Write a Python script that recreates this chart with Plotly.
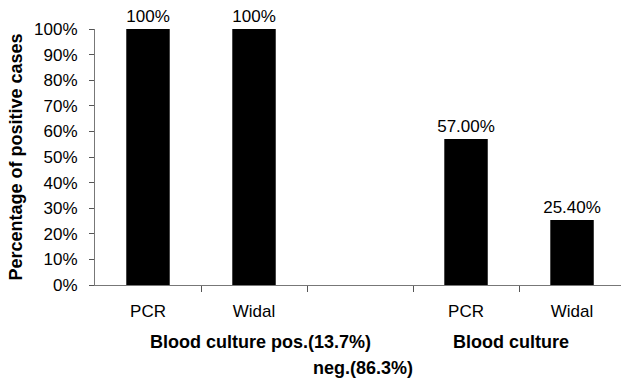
import plotly.graph_objects as go

categories = ["PCR", "Widal", "", "PCR", "Widal"]
positions = [0, 1, 2, 3, 4]
values = [100, 100, None, 57.0, 25.4]
value_labels = ["100%", "100%", "", "57.00%", "25.40%"]
y_ticks = [0, 10, 20, 30, 40, 50, 60, 70, 80, 90, 100]
y_tick_labels = [f"{v}%" for v in y_ticks]
group_labels = ["Blood culture pos.(13.7%)", "Blood culture", "neg.(86.3%)"]

FONT = "Liberation Sans, Arial, sans-serif"

fig = go.Figure()
fig.add_trace(go.Bar(
    x=positions, y=values,
    width=0.41,
    marker=dict(color="black", line=dict(width=0)),
    text=value_labels, textposition="outside",
    textfont=dict(size=17, color="black", family=FONT),
    constraintext="none",
    cliponaxis=False,
))

fig.update_layout(
    width=621, height=378,
    margin=dict(l=95, r=0, t=29, b=93, autoexpand=False),
    plot_bgcolor="white", paper_bgcolor="white",
    showlegend=False,
    font=dict(family=FONT, size=17, color="black"),
    xaxis=dict(
        range=[-0.5, 4.462],
        automargin=False,
        tickmode="array",
        tickvals=[0, 1, 3, 4],
        ticktext=["PCR", "Widal", "PCR", "Widal"],
        ticks="", ticklabelstandoff=11,
        showline=True, linecolor="#777", linewidth=1,
        showgrid=False, zeroline=False,
        tickfont=dict(size=17),
        minor=dict(tickmode="array", tickvals=[0.5, 1.5, 2.5, 3.5],
                   ticks="outside", ticklen=6, tickcolor="#555", tickwidth=1,
                   showgrid=False),
    ),
    yaxis=dict(
        range=[0, 100],
        automargin=False,
        tickmode="array", tickvals=y_ticks, ticktext=y_tick_labels,
        ticks="outside", ticklen=5, tickcolor="#555", tickwidth=1,
        ticklabelstandoff=8,
        showline=True, linecolor="#777", linewidth=1,
        showgrid=False, zeroline=False,
        tickfont=dict(size=17),
        title=dict(text="<b>Percentage of positive cases</b>",
                   font=dict(size=18), standoff=6),
    ),
)

fig.add_annotation(text=f"<b>{group_labels[0]}</b>", xref="x", yref="paper",
                   x=0.0, y=-0.223, xanchor="left", yanchor="middle",
                   showarrow=False, font=dict(size=18))
fig.add_annotation(text=f"<b>{group_labels[1]}</b>", xref="x", yref="paper",
                   x=2.86, y=-0.223, xanchor="left", yanchor="middle",
                   showarrow=False, font=dict(size=18))
fig.add_annotation(text=f"<b>{group_labels[2]}</b>", xref="x", yref="paper",
                   x=1.54, y=-0.324, xanchor="left", yanchor="middle",
                   showarrow=False, font=dict(size=18))

fig.write_html("out.html",
               config={"displayModeBar": False},
               post_script="document.body.style.margin='0';document.body.style.overflow='hidden';")
